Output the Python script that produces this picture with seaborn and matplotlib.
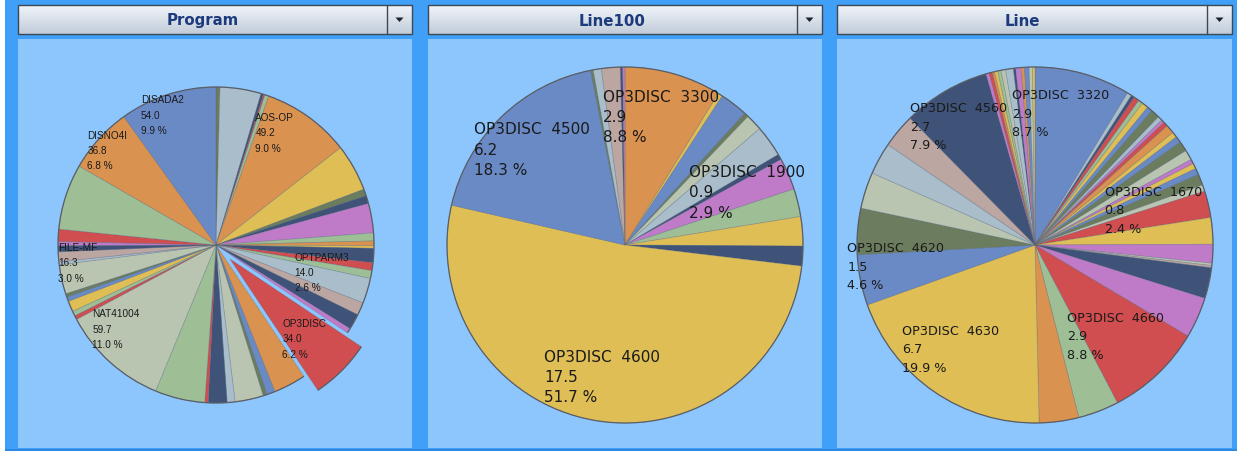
import math
import numpy as np
import matplotlib
matplotlib.use("Agg")
import matplotlib.pyplot as plt
from matplotlib.patches import Rectangle, Polygon, Arc
import seaborn as sns

# ---------------------------------------------------------------- data
program_labels = ["", "", "", "", "", "AOS-OP", "", "", "", "", "", "", "", "", "", "",
                  "OPTPARM3", "", "", "", "OP3DISC", "", "", "", "", "", "", "", "",
                  "NAT41004", "", "", "", "", "", "FILE-MF", "", "", "", "", "", "",
                  "DISNO4I", "DISADA2"]
program_values = [2.2, 22.9, 1.4, 0.8, 2.2, 49.2, 26.2, 3.8, 4.4, 16.4, 4.4, 2.7, 1.4, 7.9,
                  4.4, 4.4, 14.0, 7.1, 8.7, 2.7, 34.0, 18.0, 4.6, 2.2, 15.8, 4.4, 10.4, 1.9,
                  27.8, 59.7, 2.2, 2.7, 6.0, 2.5, 1.9, 16.3, 1.6, 5.5, 3.5, 2.2, 6.8, 36.6,
                  36.8, 54.0]
program_colors = ["olive", "gray", "navy", "red", "green", "orange", "yellow", "olive", "navy",
                  "pink", "green", "orange", "yellow", "navy", "red", "green", "gray", "rose",
                  "navy", "pink", "red", "orange", "blue", "olive", "sage", "gray", "navy",
                  "red", "green", "sage", "red", "green", "yellow", "blue", "olive", "sage",
                  "gray", "rose", "navy", "pink", "red", "green", "orange", "blue"]
program_exploded = "OP3DISC"

line100_labels = ["OP3DISC  3300", "", "", "", "", "", "", "OP3DISC  1900", "", "", "",
                  "OP3DISC  4600", "OP3DISC  4500", "", "", "", "", ""]
line100_values = [2.98, 0.14, 0.86, 0.14, 0.51, 0.97, 0.17, 0.98, 0.86, 0.90, 0.61,
                  17.53, 6.21, 0.08, 0.25, 0.58, 0.07, 0.07]
line100_colors = ["orange", "yellow", "blue", "olive", "sage", "gray", "navy", "pink",
                  "green", "yellow", "navy", "yellow", "blue", "olive", "gray", "rose",
                  "navy", "pink"]

line_labels = (["OP3DISC  3320"] + [""] * 20 +
               ["OP3DISC  1670", "", "", "", "", "", "", "OP3DISC  4660", "", "",
                "OP3DISC  4630", "OP3DISC  4620", "", "", "", "", "OP3DISC  4560"] +
               [""] * 13)
line_values = ([2.96] +
               [0.14, 0.10, 0.17, 0.14, 0.20, 0.17, 0.27, 0.14, 0.10, 0.14,
                0.27, 0.17, 0.20, 0.31, 0.31, 0.14, 0.17, 0.20, 0.34, 0.20] +
               [0.82, 0.82, 0.58, 0.07, 0.07, 0.95, 1.26, 2.99, 1.26, 1.22,
                6.77, 1.56, 1.43, 1.12, 0.99, 1.05, 2.70] +
               [0.10, 0.10, 0.07, 0.10, 0.10, 0.14, 0.24, 0.07, 0.17, 0.10,
                0.14, 0.10, 0.08])
line_colors = (["blue"] +
               ["gray", "navy", "red", "green", "yellow", "blue", "olive", "gray", "pink", "red",
                "orange", "yellow", "blue", "olive", "sage", "pink", "yellow", "blue", "olive", "sage"] +
               ["red", "yellow", "pink", "sage", "rose", "navy", "pink", "red", "green", "orange",
                "yellow", "blue", "olive", "sage", "gray", "rose", "navy"] +
               ["pink", "red", "orange", "yellow", "green", "sage", "gray", "navy", "pink", "orange",
                "blue", "sage", "yellow"])

panel_titles = ["Program", "Line100", "Line"]

# ---------------------------------------------------------------- style
sns.set_style("white")
plt.rcParams["font.family"] = ["DejaVu Sans"]

palette_names = ["blue", "orange", "gray", "yellow", "olive", "navy",
                 "pink", "green", "red", "sage", "rose"]
palette = dict(zip(palette_names, sns.color_palette(
    ["#6a8ac6", "#d9924f", "#a9bdca", "#dfbe55", "#6b7d5e", "#3f5277",
     "#c07bc8", "#9ebe96", "#d04d50", "#b9c5b1", "#bba6a2"])))

W, H = 1237, 452
fig = plt.figure(figsize=(W / 100, H / 100), dpi=100, facecolor="white")

# background canvas in pixel coordinates
bg = fig.add_axes([0, 0, 1, 1])
bg.set_xlim(0, W)
bg.set_ylim(H, 0)
bg.axis("off")
bg.add_patch(Rectangle((5, 0), W - 5, H, color="#40a0f8", lw=0))
bg.add_patch(Rectangle((5, H - 2.5), W - 5, 2.5, color="#2b88e6", lw=0))

panels = [(18, 412), (428, 822), (837, 1232)]
head_top, head_bot = 6, 35
grad = np.linspace(0, 1, 64)[:, None]
c_top = np.array([0.94, 0.96, 0.98])
c_bot = np.array([0.76, 0.80, 0.85])
grad_img = (c_top[None, None, :] * (1 - grad[..., None]) + c_bot[None, None, :] * grad[..., None])

for (x0, x1), title in zip(panels, panel_titles):
    bg.add_patch(Rectangle((x0, 40), x1 - x0, 409, color="#8cc6fd", lw=0))
    bg.imshow(grad_img, extent=(x0, x1, head_bot, head_top), aspect="auto", zorder=2)
    bg.add_patch(Rectangle((x0, head_top), x1 - x0, head_bot - head_top, fill=False,
                           ec="#3e4852", lw=1.0, zorder=3))
    bx = x1 - 25
    bg.plot([bx, bx], [head_top, head_bot], color="#3e4852", lw=1.0, zorder=3)
    tx, ty = (bx + x1) / 2, (head_top + head_bot) / 2
    bg.add_patch(Polygon([(tx - 4, ty - 2), (tx + 4, ty - 2), (tx, ty + 2.5)],
                         closed=True, color="#1e2226", lw=0, zorder=4))
    bg.text((x0 + bx) / 2, ty + 0.5, title, ha="center", va="center",
            fontsize=10.8, fontweight="bold", color="#1c3a7c", zorder=4)


def trunc1(v):
    return math.floor(v * 10 + 1e-6) / 10


def draw_pie(cx, cy, r, labels, values, colors, font, fsize, lsp, lab_r,
             lab_shift=(0, 0), exploded=None):
    R = 1.3 * r
    ax = fig.add_axes([(cx - R) / W, (H - cy - R) / H, 2 * R / W, 2 * R / H])
    ax.patch.set_visible(False)
    explode = [0.125 if exploded and lab == exploded else 0 for lab in labels]
    wedges, _ = ax.pie(values, colors=[palette[c] for c in colors], startangle=90,
                       counterclock=False, explode=explode,
                       wedgeprops=dict(edgecolor=(0.35, 0.37, 0.42, 0.35), linewidth=0.5))
    ax.set_xlim(-1.3, 1.3)
    ax.set_ylim(-1.3, 1.3)
    # darker rim along the outer edge of every wedge
    for w in wedges:
        ax.add_patch(Arc(w.center, 2 * w.r, 2 * w.r, theta1=w.theta1, theta2=w.theta2,
                         color="#5a5e66", lw=0.9))
    total = sum(values)
    sx, sy = lab_shift[0] / r, -lab_shift[1] / r
    for w, lab, v, ex in zip(wedges, labels, values, explode):
        if not lab:
            continue
        mid = math.radians((w.theta1 + w.theta2) / 2)
        rr = lab_r + ex
        txt = f"{lab}\n{trunc1(v):.1f}\n{100 * v / total:.1f} %"
        ax.text(rr * math.cos(mid) + sx, rr * math.sin(mid) + sy, txt,
                ha="center", va="center", multialignment="left", fontsize=fsize,
                family=font, linespacing=lsp, color="#1a1a1a")


draw_pie(216, 246, 158, program_labels, program_values, program_colors,
         ["Liberation Sans", "DejaVu Sans"], 7.2, 1.65, 0.8, lab_shift=(-15, -10),
         exploded=program_exploded)
draw_pie(625, 246, 178, line100_labels, line100_values, line100_colors,
         ["DejaVu Sans"], 11.0, 1.45, 0.75)
draw_pie(1035, 246, 178, line_labels, line_values, line_colors,
         ["DejaVu Sans"], 9.2, 1.55, 0.74, lab_shift=(-10, -5))

fig.savefig("out.png", dpi=100, facecolor=fig.get_facecolor())
